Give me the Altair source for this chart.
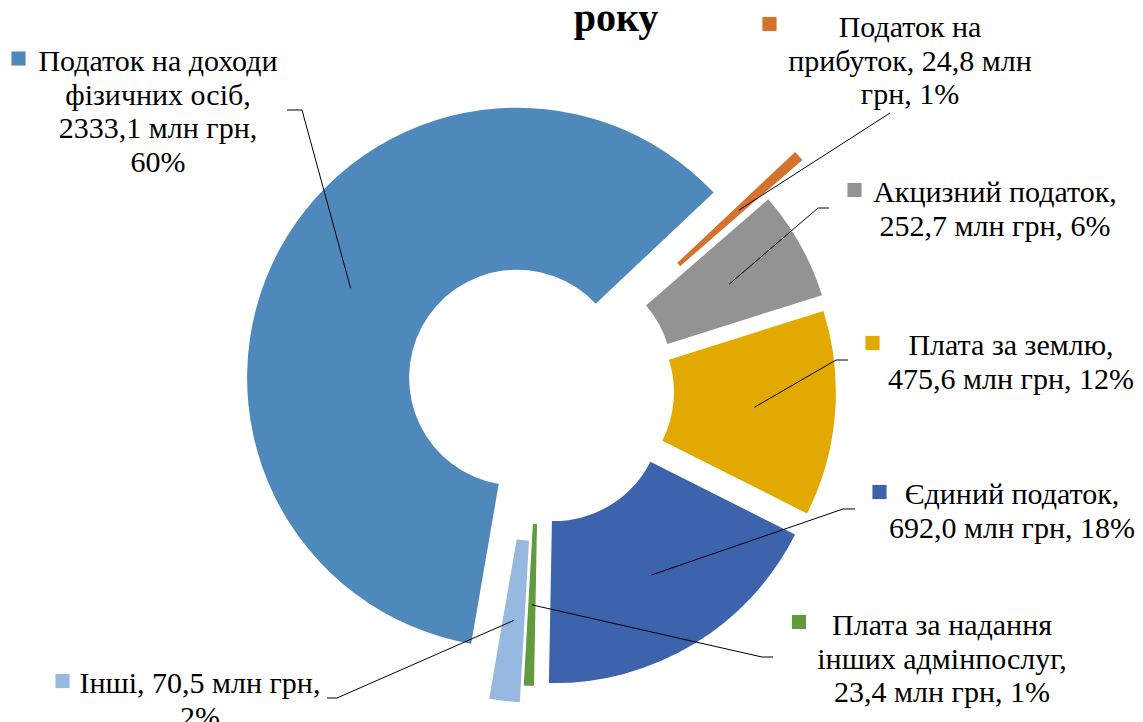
import math
import altair as alt
import pandas as pd

# ---------------- data ----------------
categories = [
    "Податок на доходи фізичних осіб",
    "Податок на прибуток",
    "Акцизний податок",
    "Плата за землю",
    "Єдиний податок",
    "Плата за надання інших адмінпослуг",
    "Інші",
]
values = [2333.1, 24.8, 252.7, 475.6, 692.0, 23.4, 70.5]
label_text = [
    "Податок на доходи\nфізичних осіб,\n2333,1 млн грн,\n60%",
    "Податок на\nприбуток, 24,8 млн\nгрн, 1%",
    "Акцизний податок,\n252,7 млн грн, 6%",
    "Плата за землю,\n475,6 млн грн, 12%",
    "Єдиний податок,\n692,0 млн грн, 18%",
    "Плата за надання\nінших адмінпослуг,\n23,4 млн грн, 1%",
    "Інші, 70,5 млн грн,\n2%",
]
title_tail = "року"

# ---------------- styles / layout ----------------
colors = ["#4F89BC", "#D4722E", "#939393", "#E2AA00", "#3D63AC", "#629A3E", "#97B9E0"]
explode_px = [26, 79, 28, 26, 27, 26, 43]
label_x = [150, 902, 987, 1003, 1004, 934, 192]
label_y = [63, 29, 194, 347, 496, 627, 685]
key_x = [10.5, 761.5, 846.5, 864.5, 871.5, 791, 54.5]
key_y = [50.5, 16, 182, 335, 484, 614, 673]
elbow_x = [294, 882, 810, 828, 835, 754, 329]
elbow_y = [102, 105, 200, 352, 501, 649, 690]
end_x = [279, 882, 821, 840, 847, 765, 319]

CX, CY = 532, 382
R_OUT, R_IN = 270, 108
R_MID = (R_OUT + R_IN) / 2
START = math.radians(189.8)
FONT = "Liberation Serif, Times New Roman, DejaVu Serif, serif"

df = pd.DataFrame({
    "order": list(range(len(categories))),
    "category": categories,
    "value": values,
    "label": label_text,
    "explode": explode_px,
    "lx": label_x, "ly": label_y,
    "kx": key_x, "ky": key_y,
    "ex": elbow_x, "ey": elbow_y, "hx": end_x,
})

color_scale = alt.Scale(domain=categories, range=colors)

base = alt.Chart(df).transform_stack(
    stack="value", groupby=[], as_=["v0", "v1"], offset="normalize",
    sort=[alt.SortField("order", order="ascending")],
).transform_calculate(
    mid=f"{START} + PI*(datum.v0 + datum.v1)",
).transform_calculate(
    cx=f"{CX} + datum.explode*sin(datum.mid)",
    cy=f"{CY} - datum.explode*cos(datum.mid)",
).transform_calculate(
    ax=f"datum.cx + {R_MID}*sin(datum.mid)",
    ay=f"datum.cy - {R_MID}*cos(datum.mid)",
)

arcs = base.mark_arc(innerRadius=R_IN, outerRadius=R_OUT).encode(
    x=alt.X("cx:Q", scale=None, axis=None),
    y=alt.Y("cy:Q", scale=None, axis=None),
    theta=alt.Theta("v0:Q", stack=False,
                    scale=alt.Scale(domain=[0, 1], range=[START, START + 2 * math.pi])),
    theta2="v1:Q",
    color=alt.Color("category:N", scale=color_scale, legend=None),
)

lead1 = base.mark_rule(color="black", strokeWidth=1).encode(
    x=alt.X("ax:Q", scale=None, axis=None),
    y=alt.Y("ay:Q", scale=None, axis=None),
    x2="ex:Q", y2="ey:Q",
)
lead2 = base.mark_rule(color="black", strokeWidth=1).encode(
    x=alt.X("ex:Q", scale=None, axis=None),
    y=alt.Y("ey:Q", scale=None, axis=None),
    x2="hx:Q", y2="ey:Q",
)

labels = base.mark_text(
    font=FONT, fontSize=30, align="center", baseline="alphabetic",
    lineBreak="\n", lineHeight=33.5, color="black",
).encode(
    x=alt.X("lx:Q", scale=None, axis=None),
    y=alt.Y("ly:Q", scale=None, axis=None),
    text="label:N",
)

keys = base.mark_square(size=200, opacity=1).encode(
    x=alt.X("kx:Q", scale=None, axis=None),
    y=alt.Y("ky:Q", scale=None, axis=None),
    color=alt.Color("category:N", scale=color_scale, legend=None),
)

title = alt.Chart(pd.DataFrame({"t": [title_tail]})).mark_text(
    font=FONT, fontSize=40, fontWeight="bold", align="center", baseline="alphabetic", color="black",
).encode(x=alt.value(608), y=alt.value(23), text="t:N")

chart = alt.layer(arcs, lead1, lead2, keys, labels, title).properties(
    width=1127, height=714, padding=0,
    autosize=alt.AutoSizeParams(type="none"),
).configure_view(stroke=None)

chart.save("out.html", embed_options={"renderer": "svg", "actions": False})
